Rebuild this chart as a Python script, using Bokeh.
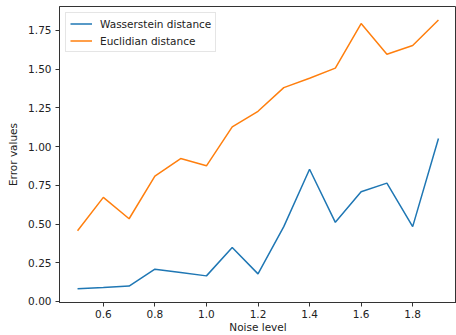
from bokeh.plotting import figure
from bokeh.models import (Range1d, FixedTicker, NumeralTickFormatter, Legend,
                          LegendItem)
from bokeh.embed import file_html
from bokeh.resources import INLINE

# Noise levels and the two error measures
noise = [0.5, 0.6, 0.7, 0.8, 0.9, 1.0, 1.1, 1.2, 1.3, 1.4, 1.5, 1.6, 1.7, 1.8, 1.9]
wasserstein = [0.082, 0.090, 0.099, 0.208, 0.187, 0.165, 0.348, 0.178, 0.483,
               0.854, 0.511, 0.708, 0.764, 0.483, 1.052]
euclidian = [0.457, 0.672, 0.534, 0.809, 0.923, 0.876, 1.127, 1.228, 1.381,
             1.442, 1.507, 1.795, 1.597, 1.653, 1.818]

x_ticks = [0.6, 0.8, 1.0, 1.2, 1.4, 1.6, 1.8]
y_ticks = [0.0, 0.25, 0.5, 0.75, 1.0, 1.25, 1.5, 1.75]

FONT = "DejaVu Sans"
FSIZE = "10.5px"

p = figure(width=456, height=335, output_backend="svg", toolbar_location=None,
           x_range=Range1d(0.43, 1.97), y_range=Range1d(-0.007, 1.905),
           min_border_left=59, min_border_right=0, min_border_top=6,
           min_border_bottom=0)
p.background_fill_color = "white"
p.border_fill_color = "white"
p.outline_line_color = "#333333"
p.outline_line_width = 1
p.xgrid.visible = False
p.ygrid.visible = False

xaxis = p.below[0]
yaxis = p.left[0]

blue = p.line(noise, wasserstein, line_color="#1f77b4", line_width=1.5)
orange = p.line(noise, euclidian, line_color="#ff7f0e", line_width=1.5)

for ax in (xaxis, yaxis):
    ax.axis_line_color = "#333333"
    ax.major_tick_line_color = "#333333"
    ax.major_tick_in = 0
    ax.major_tick_out = 4
    ax.minor_tick_line_color = None
    ax.major_label_text_font = FONT
    ax.major_label_text_font_size = FSIZE
    ax.major_label_text_color = "#222222"
    ax.axis_label_text_font = FONT
    ax.axis_label_text_font_size = FSIZE
    ax.axis_label_text_font_style = "normal"
    ax.axis_label_text_color = "#222222"

xaxis.ticker = FixedTicker(ticks=x_ticks)
xaxis.formatter = NumeralTickFormatter(format="0.0")
xaxis.axis_label = "Noise level"
xaxis.major_label_standoff = 3
xaxis.axis_label_standoff = 0

yaxis.ticker = FixedTicker(ticks=y_ticks)
yaxis.formatter = NumeralTickFormatter(format="0.00")
yaxis.axis_label = "Error values"
yaxis.major_label_standoff = 4
yaxis.axis_label_standoff = 6

legend = Legend(items=[LegendItem(label="Wasserstein distance", renderers=[blue]),
                       LegendItem(label="Euclidian distance", renderers=[orange])],
                location="top_left", label_text_font=FONT,
                label_text_font_size=FSIZE, label_text_color="#222222",
                border_line_color="#cccccc", border_line_width=1,
                background_fill_alpha=0.8, glyph_width=22, glyph_height=13,
                label_height=13, spacing=4, padding=4, margin=6,
                label_standoff=8)
p.add_layout(legend, "center")

open("out.html", "w").write(file_html(p, INLINE))
